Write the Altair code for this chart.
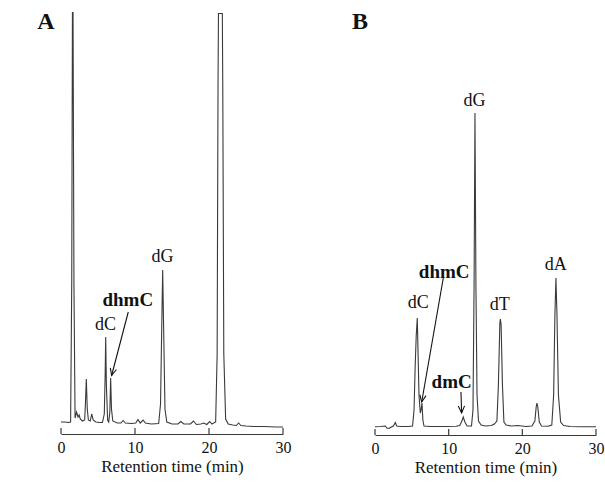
import math

import altair as alt
import pandas as pd

FONT = "'Liberation Serif', 'Times New Roman', Times, serif"
INK = "#111111"
TRACE = "#3a3a3a"
TICKS = [0, 10, 20, 30]
AXIS_TITLE = "Retention time (min)"

# Panel A chromatogram (retention time in min, detector signal in arbitrary units)
time_a = [0.0, 0.5, 1.0, 1.3, 1.45, 1.58, 1.75, 1.9, 2.1, 2.3, 2.45, 2.6, 2.9, 3.2,
          3.3, 3.42, 3.55, 3.7, 3.95, 4.15, 4.35, 4.7, 5.2, 5.6, 5.85, 5.97, 6.04,
          6.13, 6.3, 6.45, 6.6, 6.71, 6.82, 7.0, 7.6, 8.1, 8.4, 8.7, 9.5, 10.1, 10.4,
          10.7, 11.1, 11.4, 12.2, 13.2, 13.45, 13.62, 13.74, 13.86, 14.05, 14.3, 15.0,
          15.8, 16.2, 16.6, 17.5, 17.9, 18.3, 18.9, 19.3, 19.7, 20.1, 20.4, 20.9, 21.1,
          21.22, 21.28, 21.8, 21.86, 22.0, 22.25, 22.6, 23.2, 23.7, 24.0, 24.3, 25.0,
          26.0, 27.5, 29.0, 30.0]
signal_a = [12, 12, 11.5, 12, 150, 520, 150, 16, 22, 17, 19, 15, 13, 14,
            30, 55, 25, 14, 13, 20, 14, 12, 11.5, 11.5, 20, 60, 97,
            50, 14, 12, 22, 56, 25, 13, 11, 11, 13.5, 11, 10.5, 11, 14.5,
            11, 14, 11, 10, 10.5, 30, 110, 164, 110, 25, 12, 10,
            10, 12.5, 10, 10, 13, 9.5, 10, 11, 9.5, 12.5, 10, 12, 80,
            350, 420.5, 420.5, 350, 80, 15, 10, 9, 8.5, 11, 8.5, 8,
            7.5, 7.5, 7, 7]

label_text_a = ["dC", "dhmC", "dG"]
label_time_a = [6.01, 9.03, 13.72]
label_signal_a = [109, 134, 177]
label_bold_a = [False, True, False]

arrow_from_time_a = [9.09]
arrow_from_signal_a = [122]
arrow_to_time_a = [6.84]
arrow_to_signal_a = [58.5]

# Panel B chromatogram
time_b = [0.0, 0.8, 1.4, 1.6, 1.9, 2.2, 2.5, 2.75, 2.95, 3.5, 4.5, 5.1, 5.3, 5.45,
          5.6, 5.74, 5.85, 5.97, 6.15, 6.25, 6.38, 6.5, 6.65, 7.5, 9.5, 11.0, 11.5,
          11.8, 11.98, 12.2, 12.5, 13.1, 13.3, 13.45, 13.57, 13.7, 13.85, 14.05, 14.4,
          15.0, 15.8, 16.2, 16.55, 16.75, 16.95, 17.02, 17.12, 17.3, 17.5, 17.8, 18.5,
          19.4, 20.5, 21.3, 21.7, 21.88, 21.98, 22.1, 22.3, 22.6, 23.5, 24.0, 24.25,
          24.42, 24.56, 24.7, 24.9, 25.2, 25.6, 26.5, 28.0, 30.0]
signal_b = [8.3, 8.5, 9, 7, 6.5, 8, 9, 12.5, 9, 8.5, 8.5, 9, 25, 68,
            100, 117, 80, 40, 22, 25, 32, 15, 9, 8.5, 8.5, 8.8, 9.5,
            14, 18, 13, 9, 9, 25, 150, 322, 150, 40, 14, 10,
            9, 9.5, 11, 14, 50, 112, 116, 110, 50, 13, 10, 9,
            9.5, 8.5, 9, 14, 28, 32, 28, 13, 9, 8.8, 10, 40,
            120, 157, 120, 40, 13, 9.5, 8.5, 8.3, 8.3]

label_text_b = ["dC", "dhmC", "dmC", "dG", "dT", "dA"]
label_time_b = [5.88, 9.39, 10.41, 13.51, 16.92, 24.53]
label_signal_b = [132, 163, 53, 334, 130, 170]
label_bold_b = [False, True, True, False, False, False]

arrow_from_time_b = [9.27, 11.67]
arrow_from_signal_b = [157, 43]
arrow_to_time_b = [6.34, 11.76]
arrow_to_signal_b = [33, 22]

# Open "V" arrowhead, tip at the symbol origin, pointing down before rotation
ARROW_HEAD = "M -0.45 -1 L 0 0 L 0.45 -1"


def panel(letter, times, signals, lab_text, lab_t, lab_s, lab_bold,
          a_t1, a_s1, a_t2, a_s2, width, height):
    x_scale = alt.Scale(domain=[0, 30], nice=False, zero=False)
    y_scale = alt.Scale(domain=[0, height], nice=False, zero=True)
    x_axis = alt.Axis(
        values=TICKS, ticks=False, grid=False, labelFlush=False,
        domainColor=TRACE, domainWidth=1.2,
        labelFont=FONT, labelFontSize=16, labelColor=INK, labelPadding=5,
        labelAngle=0,
        title=AXIS_TITLE, titleFont=FONT, titleFontSize=17,
        titleFontWeight="normal", titleColor=INK, titlePadding=3,
    )

    def xq(field):
        return alt.X(field, type="quantitative", scale=x_scale, axis=x_axis)

    def yq(field):
        return alt.Y(field, type="quantitative", scale=y_scale, axis=None)

    trace = pd.DataFrame({"t": times, "s": signals})
    line = alt.Chart(trace).mark_line(
        color=TRACE, strokeWidth=1.1, clip=True
    ).encode(x=xq("t"), y=yq("s"), order="t:Q")

    ticks = alt.Chart(pd.DataFrame({"tick": TICKS})).mark_rule(
        color=TRACE, strokeWidth=1.2
    ).encode(x=xq("tick"), y=alt.value(height - 6), y2=alt.value(height))

    labels = pd.DataFrame({"t": lab_t, "s": lab_s, "text": lab_text, "bold": lab_bold})
    normal = alt.Chart(labels[~labels["bold"]]).mark_text(
        font=FONT, fontSize=18, color=INK, align="center", baseline="middle"
    ).encode(x=xq("t"), y=yq("s"), text="text:N")
    bold = alt.Chart(labels[labels["bold"]]).mark_text(
        font=FONT, fontSize=19, fontWeight="bold", color=INK,
        align="center", baseline="middle"
    ).encode(x=xq("t"), y=yq("s"), text="text:N")

    px_t = width / 30.0
    px_s = height / float(height)
    angles = []
    for t1, s1, t2, s2 in zip(a_t1, a_s1, a_t2, a_s2):
        dx = (t2 - t1) * px_t
        dy = (s1 - s2) * px_s
        angles.append(math.degrees(math.atan2(-dx, dy)) % 360)
    arrows = pd.DataFrame({"t1": a_t1, "s1": a_s1, "t2": a_t2, "s2": a_s2, "ang": angles})
    shafts = alt.Chart(arrows).mark_rule(color=INK, strokeWidth=1.1).encode(
        x=xq("t1"), y=yq("s1"), x2="t2:Q", y2="s2:Q"
    )
    heads = alt.Chart(arrows).mark_point(
        shape=ARROW_HEAD, size=196, filled=False, stroke=INK,
        strokeWidth=1.1, opacity=1
    ).encode(x=xq("t2"), y=yq("s2"), angle=alt.Angle("ang:Q", scale=None))

    tag = alt.Chart(pd.DataFrame({"panel": [letter]})).mark_text(
        font=FONT, fontSize=24, fontWeight="bold", color=INK,
        align="center", baseline="middle"
    ).encode(x=alt.value(-15), y=alt.value(10), text="panel:N")

    return alt.layer(line, ticks, normal, bold, shafts, heads, tag).properties(
        width=width, height=height
    )


panel_a = panel("A", time_a, signal_a, label_text_a, label_time_a, label_signal_a,
                label_bold_a, arrow_from_time_a, arrow_from_signal_a,
                arrow_to_time_a, arrow_to_signal_a, 222, 422)
panel_b = panel("B", time_b, signal_b, label_text_b, label_time_b, label_signal_b,
                label_bold_b, arrow_from_time_b, arrow_from_signal_b,
                arrow_to_time_b, arrow_to_signal_b, 221, 423)

chart = alt.hconcat(panel_a, panel_b, spacing=92, bounds="flush").properties(
    autosize=alt.AutoSizeParams(type="none"),
    padding={"left": 61, "top": 12, "right": 544, "bottom": 471},
    background="white",
).configure_view(
    stroke=None
).configure_axis(
    labelFont=FONT, labelFontSize=16, labelColor=INK,
    titleFont=FONT, titleFontSize=17, titleFontWeight="normal", titleColor=INK,
).configure_text(
    font=FONT
)

chart.save("out.html", embed_options={"renderer": "svg", "actions": False})
